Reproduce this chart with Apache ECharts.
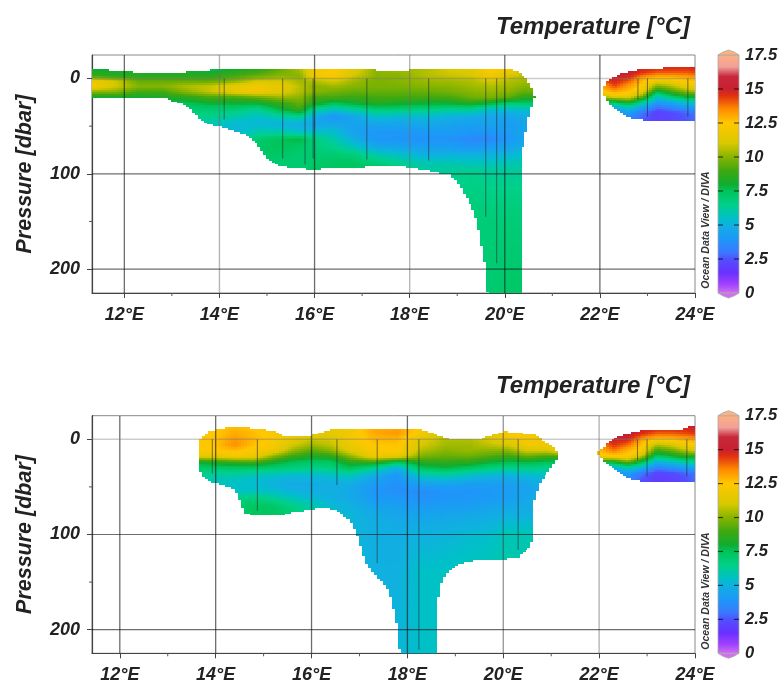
<!DOCTYPE html>
<html><head><meta charset="utf-8">
<style>html,body{margin:0;padding:0;background:#fff}#c{width:779px;height:682px}#c canvas{filter:blur(0.55px)}</style>
<script src="https://cdn.jsdelivr.net/npm/echarts@6/dist/echarts.min.js"></script>
</head><body><div id="c"></div>
<script>
// ---------- tick values ----------
const lonTicks=[12,14,16,18,20,22,24];
const lonMinor=[13,15,17,19,21,23];
const presTicks=[0,100,200];
const presMinor=[50,150];
// ---------- colour scale (temperature -> colour) ----------
const scaleVals=[0,0.7,1.5,2.5,3,4,5,5.5,6.5,7.5,8,9,10,11,12.5,13.5,14.5,15,15.9,16.6,17.5];
const scaleCols=['#d070f0','#a040ff','#6a30ff','#5050ff','#3a78ff','#1c98f8','#10b0e0','#00c0c8','#00d088','#00c458','#10ac30','#40a810','#88b400','#d8c800','#ffc800','#ff8c00','#e03010','#c82030','#c8283c','#f0a098','#ffb080'];
// ---------- panel 1, main section ----------
const p1Lons=[11.3,11.8,12.3,12.8,13.3,13.8,14.3,14.8,15.3,15.7,16.0,16.4,16.8,17.3,17.8,18.3,18.8,19.3,19.7,20.1,20.4,20.65];
const p1Levels=[-10,-3,3,8,14,20,26,32,40,48,56,64,72,80,90,100,140,226];
const p1Temps=[
[8,8.8,11.8,12.2,10,8,7.5,7,7,7,7,7,7,7,7,7,7,7],
[7.8,8.5,11,11,10,8,7.5,7,7,7,7,7,7,7,7,7,7,7],
[8,8.5,9.5,10,9,8,7.5,7,7,7,7,7,7,7,7,7,7,7],
[8,8.5,9.5,10,9,8.2,7.5,7,7,7,7,7,7,7,7,7,7,7],
[8,8.5,9.5,10.5,10,8.5,7.5,7,6.5,6,6,6,6,6,6,6,6,6],
[7.5,8.5,9.5,10.8,10.8,9,8,7,6.5,5.8,5.5,6,6,6,6,6,6,6],
[8,9,10,11.5,11.5,9,8,7,6,5.3,5,6,6.5,7,7,7,7,7],
[8.5,9.5,11,12,12,9.5,8,6.5,5.5,5.2,6,7,7.2,7.2,7.2,7,7,7],
[9.5,10,11,11.5,11.3,10.2,8.8,8,6,5,6,7.5,7.5,7.2,7,7,7,7],
[10.5,10,10.3,10.6,10.5,10,9.5,9,6.5,4.8,5.5,7.8,7.2,7,7,7,7,7],
[12,12,10.5,10,10,9,8.5,6.5,4.8,4.5,5.5,6.8,6.8,7,7.2,7.2,7.2,7.2],
[12.3,12.3,11,10.3,9.7,9,7.5,5.8,3.9,4.6,5.5,6,6.5,7,7.3,7.3,7.3,7.3],
[11.5,11,10.3,10,9.5,8.8,8,6.3,4.5,4.4,4.4,5,5.8,6.8,7.4,7.4,7.4,7.4],
[10,10,9.8,9.8,9.5,9,8.5,7,5.5,4.5,4,4,4.7,6,7,7,7,7],
[10.3,10,10,9.8,9.5,9,8.2,7,5.2,4.5,4,3.9,4.5,5.5,6.5,6.5,6.5,6.5],
[10.5,10.5,10.2,10,9.5,9,8,6.8,5.3,4.7,4.1,3.8,4.3,5,6,6,6,6],
[11,10.8,10.3,10,9.7,9,8,6.5,5,4.5,4.2,3.8,4.3,5,6,6.3,6.5,6.8],
[11.5,11,10.5,10.3,10,9.6,8.5,6.5,4.8,4.3,4,3.5,4,5,5.8,6.5,6.8,7],
[12.5,12,11,10.5,10.2,9.8,8,5.5,4.6,4.4,4,3.5,4.2,5,5.8,6.3,6.8,7],
[12.3,11,10.5,10.3,10,9.3,7,5.5,4.5,4.2,4.2,4,4.5,5.2,5.9,6.3,6.8,7.2],
[11,10.6,10.3,10,9.5,8.5,7.2,5.5,4.8,4.5,4.5,4.5,5,5.4,6,6.3,6.8,7.2],
[11,10.6,10.3,10,9.5,8.5,7.2,5.5,4.8,4.5,4.5,4.5,5,5.4,6,6.3,6.8,7.2]];
const p1TopLon=[11.32,11.64,11.66,12.2,12.22,13.28,13.3,13.78,13.8,17.28,17.3,17.95,17.97,20,20.2,20.36,20.42,20.49,20.56,20.62,20.64];
const p1TopP=[-10,-10,-7,-7,-5,-5,-7,-7,-10,-10,-7,-7,-10,-10,-9,-4,-1.5,4,10,17,19];
const p1BotLon=[11.32,12.87,13,13.3,13.5,13.7,14,14.5,14.75,15,15.3,15.8,16,16.1,17,17.1,17.8,18.3,18.84,19,19.2,19.4,19.5,19.6,19.64,20.36,20.38,20.42,20.49,20.56,20.62,20.64];
const p1BotP=[20,20.5,24,28,38,47,50,58,66,85,92,95,97,95,94,92,92,96,101,108,124,148,173,201,226,226,72,61,43,30,21,19];
// ---------- panel 1, eastern section ----------
const p1ELons=[22,22.3,22.6,22.9,23.2,23.5,23.8,24];
const eLevels=[-14,-6,0,6,12,18,24,30,36,46];
const p1ETemps=[
[15,15,14.5,13,12.5,11,8,6,4.5,4],
[15,15,15,14.5,13.5,12,8,5,3.5,3.2],
[15.2,15.2,14.5,13.5,12.8,12,9,6,4.2,3],
[15,14.5,13,12.5,12,10,7,4.5,3,2.5],
[15,14,12.5,10.5,8.5,6,4.5,3,2,2],
[15,14,12.5,11,9.5,7.5,5,3.5,2.3,2.2],
[15,14,12.8,12,10.5,8.5,6,4,2.7,2.5],
[15,14.2,13,12.2,11,8.5,6,4.5,3,2.8]];
const p1ETopLon=[22.03,22.1,22.21,22.48,22.9,23.7,24];
const p1ETopP=[15,7,0,-5.5,-10,-12,-12];
const p1EBotLon=[22.03,22.07,22.2,22.48,22.7,22.96,24];
const p1EBotP=[15,17,28,38,42,44,44];
// ---------- panel 2, main section ----------
const p2Lons=[13.65,14,14.4,14.8,15.2,15.6,16,16.4,16.8,17.3,17.8,18.3,18.8,19.3,19.7,20.1,20.5,20.9,21.2];
const p2Levels=[-13,-6,0,6,12,18,24,30,38,46,54,62,70,80,90,100,140,226];
const p2Temps=[
[12.5,12.5,12.5,12.5,12.3,11.5,8,7.2,6.5,6,6,6,6,6,6,6,6,6],
[12.5,12.5,12.6,12.6,12.5,11.5,8.5,7.2,6,5.7,6,6,6.5,6.5,6.5,6.5,6.5,6.5],
[12.7,13,13.3,13.4,12.7,12,8.8,7.3,6,5.5,5.5,6.5,7,7,7,7,7,7],
[12.5,12.7,12.8,12.6,12.3,11.8,9,7.3,5.7,5.3,5.6,6.8,7.3,7.4,7.4,7.4,7.4,7.4],
[12,12.2,12.3,12.2,11.8,10,8.2,7,5.5,5,5.4,6.3,7.2,7.4,7.4,7.4,7.4,7.4],
[12,12,11.5,11,10.2,8.8,7.5,6.8,5.3,4.8,5,5.8,6.6,7,7,7,7,7],
[11.5,11.5,10.8,10.3,9.3,8.3,7.2,6.6,5.3,4.8,4.9,5.3,6,6,6,6,6,6],
[11.5,11.5,11,10.7,10,8.5,7.3,6.7,5.5,4.9,4.9,5,5.3,5.5,5.5,5.5,5.5,5.5],
[12,12,12,11.8,11.3,10,8.5,7.5,5.8,4.9,4.7,4.8,5,5.2,5.2,5.2,5.2,5.2],
[13,13,12.8,12.5,12.3,11.8,8.8,6.5,4.8,4.2,3.9,4.1,4.5,4.8,4.9,4.9,5,5],
[13,13.3,12.8,12.6,12.5,11.5,7.5,5,4,3.8,3.7,4,4.3,4.6,4.8,4.9,5,5.2],
[12.5,12,11.3,11,10.5,9.8,8.5,7.5,5.8,4.5,3.7,3.8,4.1,4.5,4.8,5,5.5,5.5],
[11,11,10.5,10.3,10,9.5,8.7,7.8,6,4.6,3.9,3.9,4.2,4.6,4.9,5.1,5.6,5.6],
[10.5,10.5,10.5,10.3,10.2,9.6,8.6,7.3,5.5,4.4,3.9,4,4.2,4.7,5,5.3,5.8,5.8],
[11.5,11.5,11,10.7,10,9.2,8,6.8,5.2,4.3,4,4.1,4.4,4.8,5.1,5.4,5.9,5.9],
[12.3,12.3,11.8,11,10,8.8,7.6,6.5,5,4.3,4.2,4.3,4.6,5,5.4,5.8,6,6],
[12.2,12.2,12.2,12,11,9.5,7.8,6.6,5.3,4.6,4.4,4.6,4.8,5,5.4,5.8,6,6],
[12,12,12,12,11,9,7.5,6.5,5.5,5,5,5,5,5,5,6,6,6],
[12,12,12,12,12,9,7.5,6.5,5.5,5,5,5,5,5,5,6,6,6]];
const p2TopLon=[13.65,13.7,13.82,13.9,14.09,14.33,14.7,14.72,15.03,15.3,15.48,15.93,16.03,16.45,18.27,18.5,18.9,19.5,19.76,20.07,20.42,20.7,20.9,21.07,21.17];
const p2TopP=[2,-2,-6,-9,-10.5,-13,-13,-11,-10,-7,-2.5,-2.5,-5,-10.5,-10,-7,-0.3,-0.3,-4.5,-8,-6,-4.5,4,9.5,16];
const p2BotLon=[13.65,13.75,13.9,14,14.4,14.55,14.61,14.85,15.41,15.6,16,16.2,16.53,16.8,16.94,17.05,17.12,17.36,17.6,17.7,17.8,17.83,17.85,18.6,18.62,18.67,18.74,18.89,19.06,19.34,20,20.31,20.49,20.6,20.61,20.62,20.69,20.8,20.9,21.07,21.17];
const p2BotP=[32,39,45,46,53,70,78,80,80,77,74,71,75,85,99,116,130,144,158,175,200,217,226,226,175,158,147,137,132,128,126,125,116,108,81,71,57,44,37,25,17.5];
// ---------- panel 2, eastern section ----------
const p2ELons=[21.95,22.3,22.6,22.9,23.2,23.5,23.8,24];
const p2ETemps=[
[14,14,13.5,13,12.5,12,8,6,4.5,4],
[15,15,15,14.5,13.7,12.3,8,5,3.5,3.2],
[15.3,15.2,14.8,13.8,12.8,12.3,9.5,6,4.2,3],
[15.2,14.6,13.2,12.5,12.2,10.5,7.5,5,3,2.3],
[15,14,12.5,10.5,8.8,7,5,3.3,2.1,1.8],
[15,14,12.6,11,9.5,7.8,5.4,3.7,2.3,1.9],
[15,14.2,13,12,10.5,8.5,6.2,4.2,2.7,2.3],
[15.1,14.4,13.2,12.3,11,8.5,6.3,4.5,3,2.8]];
const p2ETopLon=[21.97,22,22.1,22.2,22.45,22.9,23.7,23.9,24];
const p2ETopP=[15,11,8,2,-4,-9.5,-10.5,-14,-14];
const p2EBotLon=[21.97,22.15,22.36,22.63,22.9,24];
const p2EBotP=[15,25,34,41,44.5,44.5];
// ---------- station profiles: longitude and deepest pressure ----------
const p1StationLon=[14.1,15.33,15.8,15.97,17.1,18.4,19.6,19.83,22.8,23,23.85];
const p1StationEnd=[43,84,90,84,85,86,145,194,22,40,40];
const p2StationLon=[13.93,14.87,16.53,17.37,18.24,20.31,22.8,23,23.83];
const p2StationEnd=[36,75,48,130,221,116,22,39,39];
// ---------- darker / lighter gridline longitudes ----------
const p1DarkLon=[12,16,20,22], p1LightLon=[14,18];
const p2DarkLon=[12,14,16,18], p2MidLon=[20], p2LightLon=[22];
const cbLabels=[0,2.5,5,7.5,10,12.5,15,17.5];

const FONT='"Liberation Sans",Arial,sans-serif';
const hex=c=>[parseInt(c.slice(1,3),16),parseInt(c.slice(3,5),16),parseInt(c.slice(5,7),16)];
const scaleRGB=scaleCols.map(hex);
function colour(t){
  t=Math.max(0,Math.min(17.5,t));
  let k=0; while(k<scaleVals.length-2&&t>scaleVals[k+1])k++;
  const f=(t-scaleVals[k])/(scaleVals[k+1]-scaleVals[k]),a=scaleRGB[k],b=scaleRGB[k+1];
  return 'rgb('+Math.round(a[0]+(b[0]-a[0])*f)+','+Math.round(a[1]+(b[1]-a[1])*f)+','+Math.round(a[2]+(b[2]-a[2])*f)+')';
}
function interp(xs,ys,x){
  if(x<xs[0]||x>xs[xs.length-1])return null;
  for(let i=0;i<xs.length-1;i++) if(x<=xs[i+1]) return ys[i]+(ys[i+1]-ys[i])*(x-xs[i])/(xs[i+1]-xs[i]);
  return ys[ys.length-1];
}
function fieldSeries(idx,lons,levels,temps,topLon,topP,botLon,botP){
  const data=[];
  for(let i=0;i<lons.length-1;i++)for(let j=0;j<levels.length-1;j++)data.push([lons[i],levels[j],temps[i][j],i,j]);
  return {type:'custom',coordinateSystem:'cartesian2d',xAxisIndex:idx,yAxisIndex:idx,silent:true,z:2,clip:true,
    encode:{x:0,y:1},data,
    renderItem(params,api){
      const i=api.value(3),j=api.value(4);
      const a=api.coord([lons[i],levels[j]]),b=api.coord([lons[i+1],levels[j+1]]);
      const X0=Math.round(a[0]),X1=Math.round(b[0]),Y0=Math.round(a[1]),Y1=Math.round(b[1]);
      const ch=[],SX=3,SY=2;
      for(let px=X0;px<X1;px+=SX){
        const w=Math.min(SX,X1-px),u=(px+w/2-a[0])/(b[0]-a[0]);
        const lon=lons[i]+u*(lons[i+1]-lons[i]);
        const t0=interp(topLon,topP,lon),b0=interp(botLon,botP,lon);
        if(t0===null||b0===null)continue;
        for(let py=Y0;py<Y1;py+=SY){
          const h=Math.min(SY,Y1-py),v=(py+h/2-a[1])/(b[1]-a[1]);
          const p=levels[j]+v*(levels[j+1]-levels[j]);
          if(p<t0||p>b0)continue;
          const t=(1-u)*((1-v)*temps[i][j]+v*temps[i][j+1])+u*((1-v)*temps[i+1][j]+v*temps[i+1][j+1]);
          ch.push({type:'rect',shape:{x:px,y:py,width:w,height:h},style:{fill:colour(t)}});
        }
      }
      return {type:'group',children:ch,silent:true};
    }};
}
function vlines(idx,lonsArr,color,width,z,yMin,yMax){
  return {type:'custom',coordinateSystem:'cartesian2d',xAxisIndex:idx,yAxisIndex:idx,silent:true,z,clip:true,
    encode:{x:0},data:lonsArr.map(v=>[v]),
    renderItem(p,api){const a=api.coord([api.value(0),yMin]),b=api.coord([api.value(0),yMax]);
      return {type:'line',shape:{x1:a[0],y1:a[1],x2:b[0],y2:b[1]},style:{stroke:color,lineWidth:width}};}};
}
function hlines(idx,vals,color,width,z,xMin,xMax){
  return {type:'custom',coordinateSystem:'cartesian2d',xAxisIndex:idx,yAxisIndex:idx,silent:true,z,clip:true,
    encode:{y:0},data:vals.map(v=>[v]),
    renderItem(p,api){const a=api.coord([xMin,api.value(0)]),b=api.coord([xMax,api.value(0)]);
      return {type:'line',shape:{x1:a[0],y1:a[1],x2:b[0],y2:b[1]},style:{stroke:color,lineWidth:width}};}};
}
function stations(idx,lon,end){
  return {type:'custom',coordinateSystem:'cartesian2d',xAxisIndex:idx,yAxisIndex:idx,silent:true,z:4,clip:true,
    encode:{x:0,y:1},data:lon.map((v,i)=>[v,end[i]]),
    renderItem(p,api){const a=api.coord([api.value(0),0]),b=api.coord([api.value(0),api.value(1)]);
      return {type:'line',shape:{x1:a[0],y1:a[1],x2:b[0],y2:b[1]},style:{stroke:'rgba(35,45,50,.6)',lineWidth:1}};}};
}
function minorTicks(idx,xMin,yMax){
  return [{type:'custom',coordinateSystem:'cartesian2d',xAxisIndex:idx,yAxisIndex:idx,silent:true,z:5,clip:false,
    encode:{x:0},data:lonMinor.map(v=>[v]),
    renderItem(p,api){const a=api.coord([api.value(0),yMax]);
      return {type:'line',shape:{x1:a[0],y1:a[1],x2:a[0],y2:a[1]+3},style:{stroke:'#555',lineWidth:1}};}},
   {type:'custom',coordinateSystem:'cartesian2d',xAxisIndex:idx,yAxisIndex:idx,silent:true,z:5,clip:false,
    encode:{y:0},data:presMinor.map(v=>[v]),
    renderItem(p,api){const a=api.coord([xMin,api.value(0)]);
      return {type:'line',shape:{x1:a[0]-3,y1:a[1],x2:a[0],y2:a[1]},style:{stroke:'#555',lineWidth:1}};}}];
}
function colourBar(idx){
  const stops=scaleVals.map((v,i)=>({offset:1-v/17.5,color:scaleCols[i]})).reverse();
  return {type:'custom',coordinateSystem:'cartesian2d',xAxisIndex:idx,yAxisIndex:idx,silent:true,z:3,clip:false,
    encode:{y:0},data:cbLabels.map(v=>[v]),
    renderItem(p,api){
      const a=api.coord([0,api.value(0)]),b=api.coord([1,api.value(0)]);
      const ch=[{type:'line',shape:{x1:a[0],y1:a[1],x2:a[0]+5,y2:a[1]},style:{stroke:'rgba(0,0,0,.65)',lineWidth:1.2}},
                {type:'line',shape:{x1:b[0]-5,y1:b[1],x2:b[0],y2:b[1]},style:{stroke:'rgba(0,0,0,.65)',lineWidth:1.2}}];
      if(api.value(0)===0||api.value(0)===17.5){
        ch.length=0;
        const dir=api.value(0)===0?1:-1,m=(a[0]+b[0])/2;
        ch.push({type:'polygon',shape:{points:[[a[0],a[1]],[a[0]+5,a[1]+dir*3],[m,a[1]+dir*5],[b[0]-5,b[1]+dir*3],[b[0],b[1]]]},
          style:{fill:colour(api.value(0)),stroke:'#aaa',lineWidth:.8}});
      }
      if(api.value(0)===0){
        const t=api.coord([0,17.5]);
        ch.unshift({type:'rect',shape:{x:a[0],y:t[1],width:b[0]-a[0],height:a[1]-t[1]},
          style:{fill:{type:'linear',x:0,y:0,x2:0,y2:1,colorStops:stops},stroke:'#aaa',lineWidth:.8}});
      }
      return {type:'group',children:ch};
    }};
}
const axLabel={fontFamily:FONT,fontWeight:'bold',fontStyle:'italic',fontSize:18,color:'#222'};
function xMain(g,min){return {type:'value',gridIndex:g,min,max:24,
  axisLine:{onZero:false,lineStyle:{color:'#444',width:1.2}},axisTick:{show:true,length:5,customValues:lonTicks,lineStyle:{color:'#444'}},
  axisLabel:{...axLabel,margin:13,customValues:lonTicks,formatter:'{value}°E',hideOverlap:false},splitLine:{show:false}};}
function yMain(g,min,max){return {type:'value',gridIndex:g,min,max,inverse:true,
  name:'Pressure [dbar]',nameLocation:'middle',nameGap:56,nameRotate:90,
  nameTextStyle:{fontFamily:FONT,fontWeight:'bold',fontStyle:'italic',fontSize:21.5,color:'#222'},
  axisLine:{onZero:false,lineStyle:{color:'#444',width:1.2}},axisTick:{show:true,length:5,customValues:presTicks,lineStyle:{color:'#444'}},
  axisLabel:{...axLabel,margin:12,customValues:presTicks,hideOverlap:false},splitLine:{show:false}};}
function xBar(g){return {type:'value',gridIndex:g,min:0,max:1,show:false};}
function yBar(g){return {type:'value',gridIndex:g,min:0,max:17.5,interval:2.5,position:'right',
  axisLine:{show:false},axisTick:{show:false},splitLine:{show:false},
  axisLabel:{...axLabel,fontSize:16.5,margin:6,showMinLabel:true,showMaxLabel:true,hideOverlap:false}};}

const P1MIN=-24.66,P1MAX=225.08,P2MIN=-24.8,P2MAX=224.8,X1MIN=11.32,X2MIN=11.42;
const DARK='rgba(20,20,20,.62)',MID='rgba(60,60,60,.55)',LIGHT='rgba(110,110,110,.5)',ZERO='rgba(120,120,120,.38)';
const titleStyle={fontFamily:FONT,fontWeight:'bold',fontStyle:'italic',fontSize:24,color:'#222'};
const option={
  animation:false,backgroundColor:'#fff',
  title:[
    {text:'Temperature [°C]',right:84,top:10,textStyle:titleStyle},
    {text:'Temperature [°C]',right:84,top:369,textStyle:titleStyle}
  ],
  grid:[
    {left:92,width:603,top:55,height:238,show:true,borderColor:'#888',borderWidth:1,backgroundColor:'#fff',outerBoundsMode:'none'},
    {left:718,width:21,top:55,height:238,outerBoundsMode:'none'},
    {left:92,width:603,top:415.7,height:237.6,show:true,borderColor:'#888',borderWidth:1,backgroundColor:'#fff',outerBoundsMode:'none'},
    {left:718,width:21,top:415.7,height:237.6,outerBoundsMode:'none'}
  ],
  xAxis:[xMain(0,X1MIN),xBar(1),xMain(2,X2MIN),xBar(3)],
  yAxis:[yMain(0,P1MIN,P1MAX),yBar(1),yMain(2,P2MIN,P2MAX),yBar(3)],
  graphic:[
    {type:'text',x:706,y:230,rotation:Math.PI/2,style:{text:'Ocean Data View / DIVA',fontFamily:FONT,fontWeight:'bold',fontStyle:'italic',fontSize:10.5,fill:'#333',align:'center',verticalAlign:'middle'}},
    {type:'text',x:706,y:591,rotation:Math.PI/2,style:{text:'Ocean Data View / DIVA',fontFamily:FONT,fontWeight:'bold',fontStyle:'italic',fontSize:10.5,fill:'#333',align:'center',verticalAlign:'middle'}}
  ],
  series:[
    fieldSeries(0,p1Lons,p1Levels,p1Temps,p1TopLon,p1TopP,p1BotLon,p1BotP),
    fieldSeries(0,p1ELons,eLevels,p1ETemps,p1ETopLon,p1ETopP,p1EBotLon,p1EBotP),
    vlines(0,p1DarkLon,DARK,1.3,3,P1MIN,P1MAX),vlines(0,p1LightLon,LIGHT,1.4,3,P1MIN,P1MAX),
    hlines(0,[0],ZERO,1.6,3,X1MIN,24),hlines(0,[100,200],DARK,1.2,3,X1MIN,24),
    stations(0,p1StationLon,p1StationEnd),...minorTicks(0,X1MIN,P1MAX),
    colourBar(1),
    fieldSeries(2,p2Lons,p2Levels,p2Temps,p2TopLon,p2TopP,p2BotLon,p2BotP),
    fieldSeries(2,p2ELons,eLevels,p2ETemps,p2ETopLon,p2ETopP,p2EBotLon,p2EBotP),
    vlines(2,p2DarkLon,DARK,1.3,3,P2MIN,P2MAX),vlines(2,p2MidLon,MID,1.3,3,P2MIN,P2MAX),vlines(2,p2LightLon,LIGHT,1.4,3,P2MIN,P2MAX),
    hlines(2,[0],ZERO,1.6,3,X2MIN,24),hlines(2,[100,200],DARK,1.2,3,X2MIN,24),
    stations(2,p2StationLon,p2StationEnd),...minorTicks(2,X2MIN,P2MAX),
    colourBar(3)
  ]
};
const chart=echarts.init(document.getElementById('c'),null,{renderer:'canvas',width:779,height:682});
chart.setOption(option);
</script></body></html>
